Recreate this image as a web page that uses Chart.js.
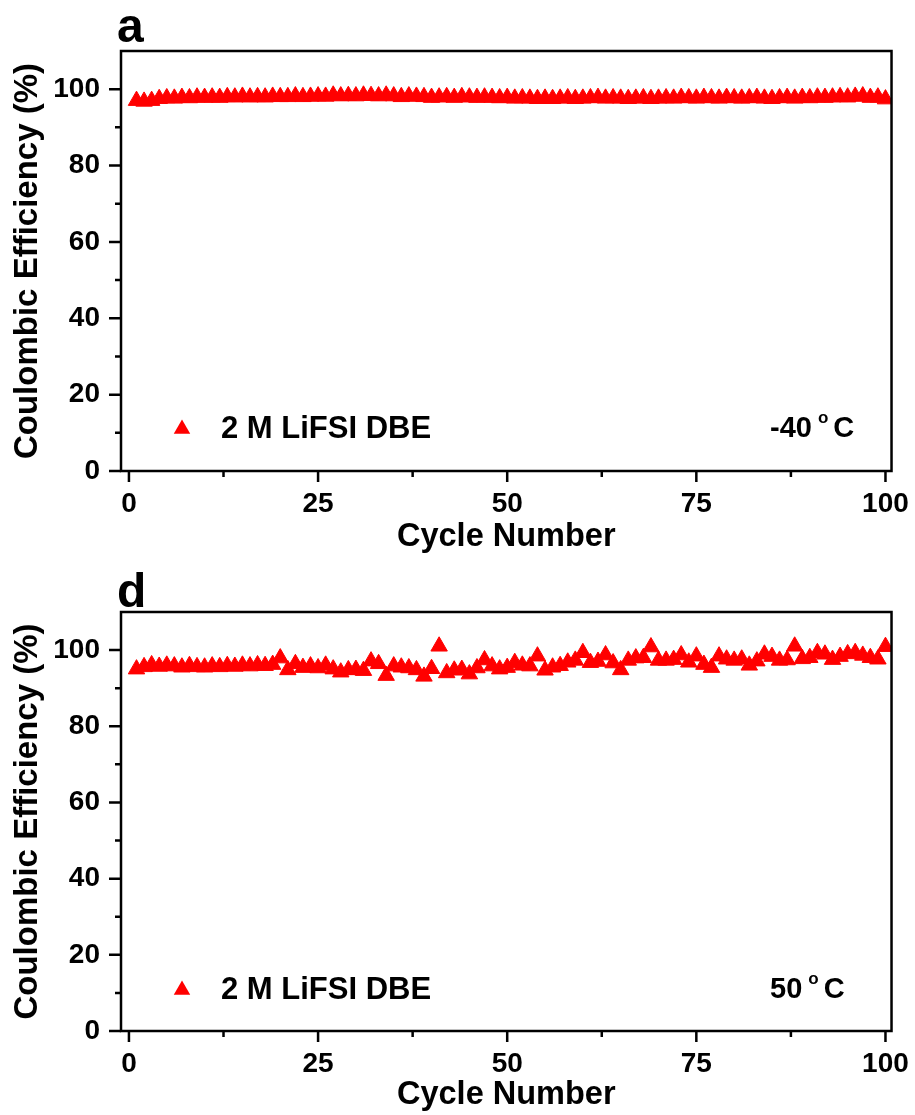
<!DOCTYPE html>
<html>
<head>
<meta charset="utf-8">
<script src="https://cdn.jsdelivr.net/npm/chart.js@4.4.1/dist/chart.umd.min.js"></script>
<style>
  body { margin: 0; background: #fff; }
  canvas { position: absolute; left: 0; }
  #panelA { top: 0; }
  #panelD { top: 557px; }
</style>
</head>
<body>
<canvas id="panelA" width="915" height="557"></canvas>
<canvas id="panelD" width="915" height="558"></canvas>
<script>
// axis ticks
const xTicks = [0, 25, 50, 75, 100];
const xMinorTicks = [12.5, 37.5, 62.5, 87.5];
const yTicks = [0, 20, 40, 60, 80, 100];
const yMinorTicks = [10, 30, 50, 70, 90];
const seriesLabel = "2 M LiFSI DBE";

// coulombic efficiency (%) per cycle, -40 oC
const ceMinus40 = [
  97.0, 96.8, 97.0, 97.5, 97.7, 97.6, 97.8, 97.7, 97.9, 97.8,
  97.9, 97.8, 98.0, 97.9, 98.1, 97.9, 98.0, 97.9, 98.1, 98.0,
  98.0, 98.2, 98.0, 98.1, 98.2, 98.1, 98.4, 98.2, 98.3, 98.2,
  98.4, 98.3, 98.2, 98.4, 98.2, 98.0, 98.2, 98.1, 98.0, 97.8,
  97.9, 98.0, 97.8, 98.0, 97.9, 97.8, 97.9, 97.8, 97.7, 97.8,
  97.6, 97.7, 97.6, 97.5, 97.6, 97.5, 97.6, 97.7, 97.5, 97.6,
  97.7, 97.8, 97.6, 97.7, 97.6, 97.5, 97.6, 97.7, 97.5, 97.6,
  97.7, 97.6, 97.8, 97.7, 97.6, 97.8, 97.7, 97.6, 97.8, 97.7,
  97.6, 97.7, 97.8, 97.6, 97.5, 97.7, 97.8, 97.6, 97.8, 97.7,
  97.9, 97.8, 97.9, 98.0, 97.9, 98.1, 98.2, 97.8, 97.9, 97.4
];

// coulombic efficiency (%) per cycle, 50 oC
const ce50 = [
  95.0, 95.6, 96.1, 95.7, 96.0, 95.8, 95.5, 95.9, 95.6, 95.5,
  95.8, 95.6, 95.9, 95.7, 96.0, 95.8, 96.1, 95.9, 96.2, 97.9,
  94.8, 96.4, 95.4, 95.8, 95.3, 96.0, 95.0, 94.2, 94.8, 94.9,
  94.6, 97.1, 96.4, 93.3, 95.8, 95.5, 95.3, 94.8, 93.1, 95.1,
  101.0, 94.0, 94.7, 94.9, 93.7, 95.3, 97.4, 95.8, 95.0, 95.4,
  96.7, 96.0, 95.8, 98.4, 94.7, 95.5, 95.9, 96.8, 97.3, 99.3,
  96.7, 97.0, 98.7, 96.6, 94.8, 97.3, 97.9, 98.0, 100.8, 97.3,
  97.3, 97.5, 98.7, 96.8, 98.4, 96.2, 95.4, 98.4, 97.6, 97.3,
  97.6, 96.0, 97.1, 98.9, 98.3, 97.3, 97.4, 101.0, 97.7, 98.0,
  99.3, 98.9, 97.5, 98.3, 99.0, 99.3, 98.6, 98.0, 97.6, 100.9
];

const cycles = ceMinus40.map((_, i) => i + 1);

const FONT = "'Liberation Sans', Arial, sans-serif";
const RED = "#ff0000";
const MARKER_R = 9.5;

// box, outward ticks, in-plot legend, temperature and panel letter
const decor = {
  id: "decor",
  afterDraw(chart, args, opts) {
    const { ctx, chartArea: a } = chart;
    const x = chart.scales.x, y = chart.scales.y;
    ctx.save();
    ctx.strokeStyle = "#000";
    ctx.lineWidth = 2.5;
    ctx.strokeRect(a.left, a.top, a.right - a.left, a.bottom - a.top);
    ctx.beginPath();
    xTicks.forEach(v => { const p = x.getPixelForValue(v); ctx.moveTo(p, a.bottom); ctx.lineTo(p, a.bottom + 11); });
    xMinorTicks.forEach(v => { const p = x.getPixelForValue(v); ctx.moveTo(p, a.bottom); ctx.lineTo(p, a.bottom + 6); });
    yTicks.forEach(v => { const p = y.getPixelForValue(v); ctx.moveTo(a.left, p); ctx.lineTo(a.left - 12, p); });
    yMinorTicks.forEach(v => { const p = y.getPixelForValue(v); ctx.moveTo(a.left, p); ctx.lineTo(a.left - 6, p); });
    ctx.stroke();

    // legend marker + text
    const lx = 182, ly = a.top + opts.legendY;
    const r = MARKER_R;
    ctx.fillStyle = RED;
    ctx.beginPath();
    ctx.moveTo(lx, ly - r);
    ctx.lineTo(lx + r * 0.866, ly + r / 2);
    ctx.lineTo(lx - r * 0.866, ly + r / 2);
    ctx.closePath();
    ctx.fill();
    ctx.fillStyle = "#000";
    ctx.textBaseline = "middle";
    ctx.textAlign = "left";
    ctx.font = "bold 31px " + FONT;
    ctx.fillText(seriesLabel, 221, ly);

    // temperature
    let tx = 770;
    ctx.font = "bold 29px " + FONT;
    ctx.fillText(opts.temp, tx, ly);
    tx += ctx.measureText(opts.temp + " ").width - 2;
    ctx.font = "bold 17px " + FONT;
    ctx.fillText("o", tx, ly - 11);
    tx += ctx.measureText("o").width + 5;
    ctx.font = "bold 29px " + FONT;
    ctx.fillText("C", tx, ly);

    // panel letter
    ctx.textBaseline = "alphabetic";
    ctx.font = "bold 48px " + FONT;
    ctx.fillText(opts.letter, 117, opts.letterY);
    ctx.restore();
  }
};

function makePanel(id, values, letter, temp, topPad, xAxisHeight, letterY) {
  return new Chart(document.getElementById(id), {
    type: "scatter",
    data: {
      datasets: [{
        label: seriesLabel,
        data: cycles.map((c, i) => ({ x: c, y: values[i] })),
        pointStyle: "triangle",
        pointRadius: MARKER_R,
        backgroundColor: RED,
        borderColor: RED,
        borderWidth: 1
      }]
    },
    options: {
      responsive: false,
      animation: false,
      devicePixelRatio: 1,
      layout: { padding: { top: topPad, right: 22, left: 0, bottom: 0 } },
      plugins: {
        legend: { display: false },
        tooltip: { enabled: false },
        decor: { letter, temp, legendY: 378, letterY }
      },
      scales: {
        x: {
          type: "linear",
          min: -1.05,
          max: 100.8,
          afterBuildTicks: s => { s.ticks = xTicks.map(v => ({ value: v })); },
          afterFit: s => { s.height = xAxisHeight; },
          grid: { drawOnChartArea: false, drawTicks: true, tickLength: 10, color: "transparent" },
          border: { display: false },
          ticks: { padding: 6, color: "#000", maxRotation: 0, autoSkip: false,
                   font: { family: FONT, size: 28, weight: "bold" } },
          title: { display: true, text: "Cycle Number", color: "#000",
                   font: { family: FONT, size: 32.5, weight: "bold" }, padding: { top: 0, bottom: 0 } }
        },
        y: {
          min: 0,
          max: 110,
          afterBuildTicks: s => { s.ticks = yTicks.map(v => ({ value: v })); },
          afterFit: s => { s.width = 121; },
          grid: { drawOnChartArea: false, drawTicks: true, tickLength: 10, color: "transparent" },
          border: { display: false },
          ticks: { padding: 11, color: "#000",
                   font: { family: FONT, size: 28, weight: "bold" } },
          title: { display: true, text: "Coulombic Efficiency (%)", color: "#000",
                   font: { family: FONT, size: 33, weight: "bold" }, padding: { top: 8, bottom: 0 } }
        }
      }
    },
    plugins: [decor]
  });
}

makePanel("panelA", ceMinus40, "a", "-40", 51, 86, 42);
makePanel("panelD", ce50, "d", "50", 55, 84, 50);
</script>
</body>
</html>
